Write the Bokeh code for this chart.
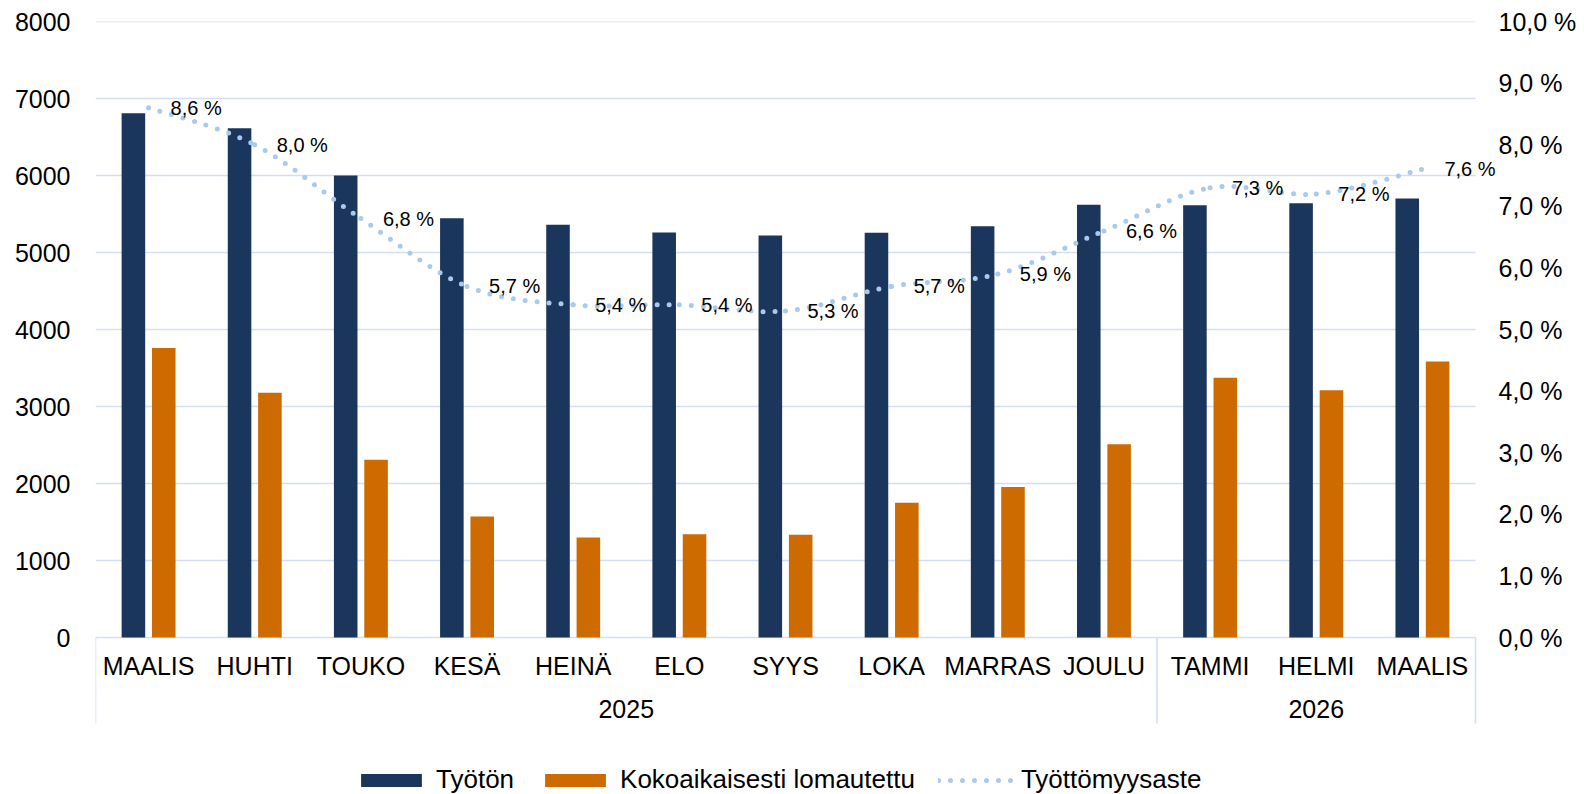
import numpy as np
from bokeh.plotting import figure
from bokeh.models import (Range1d, LinearAxis, FixedTicker, Legend, LegendItem,
                          ColumnDataSource)
from bokeh.core.properties import value
from bokeh.embed import file_html
from bokeh.resources import INLINE

# ---------------- data ----------------
months = ["MAALIS", "HUHTI", "TOUKO", "KESÄ", "HEINÄ", "ELO", "SYYS", "LOKA",
          "MARRAS", "JOULU", "TAMMI", "HELMI", "MAALIS"]
years = ["2025"] * 10 + ["2026"] * 3
tyoton = [6810, 6615, 6000, 5445, 5360, 5260, 5220, 5255, 5340, 5620, 5615, 5640, 5700]
lomautettu = [3760, 3180, 2310, 1570, 1300, 1340, 1335, 1750, 1955, 2510, 3375, 3210, 3585]
rate = [8.6, 8.0, 6.8, 5.7, 5.4, 5.4, 5.3, 5.7, 5.9, 6.6, 7.3, 7.2, 7.6]
rate_labels = [f"{v:.1f} %".replace(".", ",") for v in rate]
left_ticks = [0, 1000, 2000, 3000, 4000, 5000, 6000, 7000, 8000]
right_ticks = [0, 1, 2, 3, 4, 5, 6, 7, 8, 9, 10]
right_labels = [f"{v:.1f} %".replace(".", ",") for v in right_ticks]
series_names = ["Työtön", "Kokoaikaisesti lomautettu", "Työttömyysaste"]

# ---------------- layout ----------------
W, H = 1584, 794
BL, BR, BT = 95, 79, 21          # frame reaches a bit past the category area
cat_px = 1380.0                  # pixel width of the 13 categories
frame_w = W - BL - BR
frame_h = H - BT
px_per_8000 = 616.0
left_max, right_max = 8000.0, 10.0
y_start = left_max - frame_h * left_max / px_per_8000
p_start = right_max - frame_h * right_max / px_per_8000

FONT = value("Liberation Sans")
NAVY = "#1b365d"
ORANGE = "#cd6b00"
LINE = "#a9c9ed"
GRID = "#d3dff1"
TICK_SIZE = "25px"

n = len(months)
idx = np.arange(n, dtype=float)
x_lo, x_hi = -0.5, n - 0.5
x_end = x_lo + frame_w * n / cat_px

p = figure(width=W, height=H, x_range=Range1d(x_lo, x_end),
           y_range=Range1d(y_start, left_max), output_backend="svg",
           toolbar_location=None, x_axis_location=None,
           min_border_left=BL, min_border_right=BR, min_border_top=BT,
           min_border_bottom=0, outline_line_color=None)
p.extra_y_ranges = {"pct": Range1d(p_start, right_max)}

# left axis
ya = p.yaxis[0]
ya.ticker = FixedTicker(ticks=left_ticks)
ya.axis_line_color = None
ya.major_tick_line_color = None
ya.minor_tick_line_color = None
ya.major_tick_out = 0
ya.major_tick_in = 0
ya.minor_tick_out = 0
ya.major_label_standoff = 25
ya.major_label_text_font = "Liberation Sans"
ya.major_label_text_font_size = TICK_SIZE
ya.major_label_text_color = "#000000"

# right axis
ra = LinearAxis(y_range_name="pct", ticker=FixedTicker(ticks=right_ticks),
                major_label_overrides={t: l for t, l in zip(right_ticks, right_labels)})
ra.axis_line_color = None
ra.major_tick_line_color = None
ra.minor_tick_line_color = None
ra.major_tick_out = 0
ra.major_tick_in = 0
ra.minor_tick_out = 0
ra.major_label_standoff = -7
ra.major_label_text_font = "Liberation Sans"
ra.major_label_text_font_size = TICK_SIZE
ra.major_label_text_color = "#000000"
p.add_layout(ra, "right")

# horizontal gridlines, limited to the category area
p.xgrid.visible = False
p.ygrid.visible = False
nt = len(left_ticks)
p.segment(x0=[x_lo] * nt, x1=[x_hi] * nt, y0=left_ticks, y1=left_ticks,
          line_color=GRID, line_width=1.6)

# bars
bw = 0.222
off = 0.143
src = ColumnDataSource(dict(x1=idx - off, x2=idx + off, t=tyoton, l=lomautettu))
r1 = p.vbar(x="x1", top="t", bottom=0, width=bw, source=src, fill_color=NAVY, line_color=None)
r2 = p.vbar(x="x2", top="l", bottom=0, width=bw, source=src, fill_color=ORANGE, line_color=None)

# smoothed dotted rate line (Catmull-Rom style bezier through the data points)
ry = np.array(rate, dtype=float)
x0, y0, x1, y1, cx0, cy0, cx1, cy1 = [], [], [], [], [], [], [], []
for i in range(n - 1):
    a = max(i - 1, 0)
    d = min(i + 2, n - 1)
    x0.append(idx[i]); y0.append(ry[i]); x1.append(idx[i + 1]); y1.append(ry[i + 1])
    cx0.append(idx[i] + (idx[i + 1] - idx[a]) / 6.0)
    cy0.append(ry[i] + (ry[i + 1] - ry[a]) / 6.0)
    cx1.append(idx[i + 1] - (idx[d] - idx[i]) / 6.0)
    cy1.append(ry[i + 1] - (ry[d] - ry[i]) / 6.0)
r3 = p.bezier(x0=x0, y0=y0, x1=x1, y1=y1, cx0=cx0, cy0=cy0, cx1=cx1, cy1=cy1,
              y_range_name="pct", line_color=LINE, line_width=5,
              line_dash="0 12", line_cap="round")

# rate data labels
p.text(x=idx, y=rate, text=rate_labels, y_range_name="pct", x_offset=22,
       text_align="left", text_baseline="middle", text_font=FONT,
       text_font_size="20px", text_color="#000000")

# category axis (months + years with separators)
zeros = np.zeros(n)
p.text(x=idx, y=zeros, text=months, y_offset=28, text_align="center",
       text_baseline="middle", text_font=FONT, text_font_size=TICK_SIZE, text_color="#000000")
uniq_years = list(dict.fromkeys(years))
year_x = [float(np.mean([i for i, yv in enumerate(years) if yv == yy])) for yy in uniq_years]
p.text(x=year_x, y=[0.0] * len(uniq_years), text=uniq_years, y_offset=71,
       text_align="center", text_baseline="middle", text_font=FONT,
       text_font_size=TICK_SIZE, text_color="#000000")
bounds = [x_lo] + [max(i for i, yv in enumerate(years) if yv == yy) + 0.5 for yy in uniq_years]
sep_len = -86 * left_max / px_per_8000
p.segment(x0=bounds, y0=[0.0] * len(bounds), x1=bounds, y1=[sep_len] * len(bounds),
          line_color=GRID, line_width=1.6)

# legend
legend = Legend(items=[LegendItem(label=series_names[0], renderers=[r1]),
                       LegendItem(label=series_names[1], renderers=[r2]),
                       LegendItem(label=series_names[2], renderers=[r3])],
                orientation="horizontal", location=(258, -1),
                glyph_width=76, glyph_height=16, label_standoff=7, spacing=23,
                padding=0, margin=0, border_line_color=None,
                background_fill_alpha=0, label_text_font="Liberation Sans",
                label_text_font_size="26px", label_text_color="#000000")
p.add_layout(legend)

open("out.html", "w").write(file_html(p, INLINE))
